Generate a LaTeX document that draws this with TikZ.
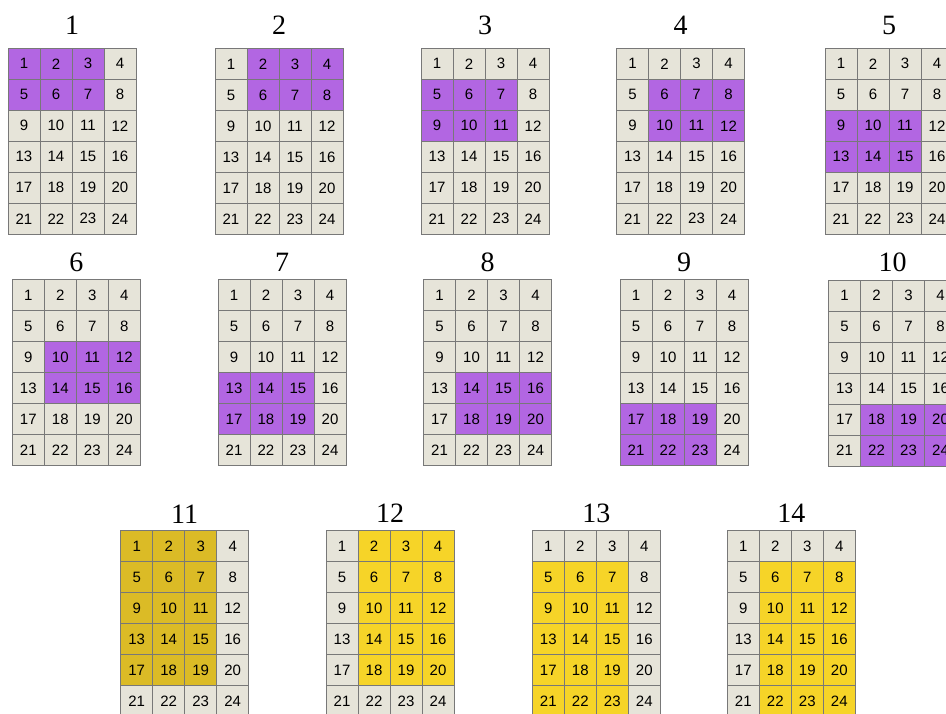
\documentclass[tikz,border=0pt]{standalone}
\usepackage{fontspec}
\setmainfont{Liberation Serif}
\setsansfont{Liberation Sans}
\definecolor{cellbg}{RGB}{230,228,217}
\definecolor{gridline}{RGB}{120,120,120}
\definecolor{hpurple}{RGB}{178,102,226}
\definecolor{hgold}{RGB}{219,187,38}
\definecolor{hyellow}{RGB}{246,212,40}
\tikzset{
  cell/.style={draw=gridline, line width=0.9pt, minimum width=32pt, minimum height=31pt,
    inner sep=0pt, font=\sffamily\fontsize{15}{15}\selectfont, text=black},
  lbl/.style={anchor=base, inner sep=0pt, font=\fontsize{28}{28}\selectfont, text=black}
}
% #1 id, #2 x0, #3 y0, #4 label baseline, #5 r0, #6 r1, #7 c0, #8 c1, #9 colour
\newcommand\mygrid[9]{%
  \node[lbl] (t#1) at ({#2+64},#4) {#1};
  \foreach \rr in {0,...,5}{%
    \foreach \cc in {0,...,3}{%
      \pgfmathtruncatemacro\cellnum{\rr*4+\cc+1}%
      \pgfmathtruncatemacro\hl{(\rr>=#5)*(\rr<=#6)*(\cc>=#7)*(\cc<=#8)}%
      \ifnum\hl=1 \def\fc{#9}\else\def\fc{cellbg}\fi
      \node[cell, fill=\fc] (g#1n\cellnum) at ({#2+16+32*\cc},{#3+15.5+31*\rr}) {\cellnum};
    }%
  }%
}
\begin{document}
\begin{tikzpicture}[x=1pt,y=-1pt]
\useasboundingbox (0,0) rectangle (946,713);
\clip (0,0) rectangle (946,713);
\fill[white] (0,0) rectangle (946,713);
\mygrid{1}{8}{48.3}{34}{0}{1}{0}{2}{hpurple}
\mygrid{2}{215}{48.5}{34}{0}{1}{1}{3}{hpurple}
\mygrid{3}{421}{48.3}{34}{1}{2}{0}{2}{hpurple}
\mygrid{4}{616.5}{48.3}{34}{1}{2}{1}{3}{hpurple}
\mygrid{5}{825}{48.3}{34}{2}{3}{0}{2}{hpurple}
\mygrid{6}{12.3}{279.5}{271}{2}{3}{1}{3}{hpurple}
\mygrid{7}{218}{279.5}{271}{3}{4}{0}{2}{hpurple}
\mygrid{8}{423.5}{279.5}{271}{3}{4}{1}{3}{hpurple}
\mygrid{9}{620}{279.5}{271}{4}{5}{0}{2}{hpurple}
\mygrid{10}{828.5}{280}{271}{4}{5}{1}{3}{hpurple}
\mygrid{11}{120.7}{530.7}{523}{0}{4}{0}{2}{hgold}
\mygrid{12}{326}{530.7}{522}{0}{4}{1}{3}{hyellow}
\mygrid{13}{532.3}{530.7}{522}{1}{5}{0}{2}{hyellow}
\mygrid{14}{727.3}{530.7}{522}{1}{5}{1}{3}{hyellow}
\end{tikzpicture}
\end{document}
